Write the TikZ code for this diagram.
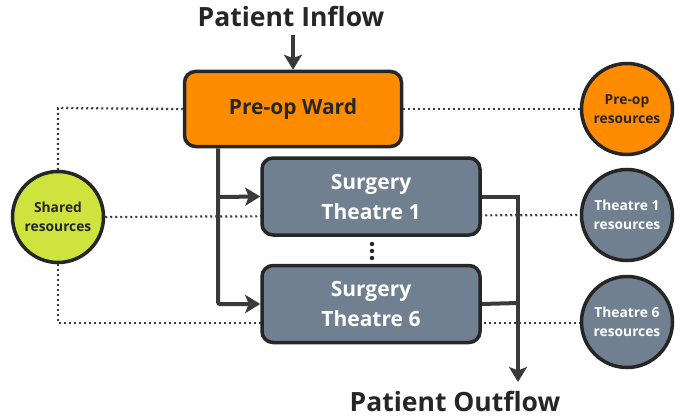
\documentclass[tikz,border=0pt]{standalone}
\usepackage{fontspec}
\setmainfont{Open Sans}
\usetikzlibrary{arrows.meta,backgrounds}
\definecolor{cdark}{HTML}{262626}
\definecolor{cline}{HTML}{3A3A3A}
\definecolor{corange}{HTML}{FF8C00}
\definecolor{cslate}{HTML}{708090}
\definecolor{cgreen}{HTML}{CFE33F}
\begin{document}
\begin{tikzpicture}[x=1pt,y=-1pt,
  box/.style={draw=cdark,line width=3.5pt,rounded corners=11pt,inner sep=0pt,font=\bfseries},
  res/.style={circle,draw=cdark,line width=3.5pt,minimum size=91pt,inner sep=0pt,align=center,font=\bfseries\fontsize{13.8}{18.5}\selectfont},
  flow/.style={draw=cline,line width=4pt},
  arr/.style={-{Stealth[length=15pt,width=18pt,inset=3.5pt]}},
  dots/.style={draw=cline,line width=2.2pt,dash pattern=on 2pt off 3pt},
  title/.style={font=\bfseries\fontsize{26.5}{30}\selectfont,text=cdark}]
\useasboundingbox (0,0) rectangle (694,420);
\node[title] (inflow) at (291,16) {Patient Inflow};
\node[title] (outflow) at (455,401) {Patient Outflow};
\node[box,fill=corange,minimum width=217pt,minimum height=75pt,text=cdark,font=\bfseries\fontsize{21}{26}\selectfont] (ward) at (293,109) {Pre-op Ward};
\node[box,fill=cslate,minimum width=218pt,minimum height=77pt,text=white,align=center,font=\bfseries\fontsize{21}{30}\selectfont] (t1) at (371,196.5) {Surgery\\Theatre 1};
\node[box,fill=cslate,minimum width=218pt,minimum height=77pt,text=white,align=center,font=\bfseries\fontsize{21}{30}\selectfont] (t6) at (371,304) {Surgery\\Theatre 6};
\node[res,fill=cgreen,text=cdark] (shared) at (58,217) {Shared\\resources};
\node[res,fill=corange,text=cdark] (rpre) at (627,109) {Pre-op\\resources};
\node[res,fill=cslate,text=white] (r1) at (627,215) {Theatre 1\\resources};
\node[res,fill=cslate,text=white] (r6) at (627,322) {Theatre 6\\resources};
\coordinate (split) at (218,197);
\coordinate (join) at (518,303);
\coordinate (outend) at (518,382);
\coordinate (inend) at (293,35);
\coordinate (c1) at (58,108);
\coordinate (c6) at (58,323);
\begin{scope}[on background layer]
\draw[dots] (shared.north) -- (c1) -- (ward.west);
\draw[dots] (ward.east) -- (rpre.west);
\draw[dots] (shared.east) -- (r1.west);
\draw[dots] (shared.south) -- (c6) -- (r6.west |- c6);
\end{scope}
\draw[flow,arr] (inend) -- (ward.north);
\draw[flow,arr,rounded corners=2pt] (ward.south -| split) |- (t6.west);
\draw[flow,arr] (split) -- (t1.west);
\draw[flow,arr] (t1.east) -| (outend);
\draw[flow] (t6.east) -- (join);
\node[circle,fill=cdark,inner sep=0pt,minimum size=4.5pt] (d1) at (372,244) {};
\node[circle,fill=cdark,inner sep=0pt,minimum size=4.5pt] (d2) at (372,251) {};
\node[circle,fill=cdark,inner sep=0pt,minimum size=4.5pt] (d3) at (372,258) {};
\end{tikzpicture}
\end{document}
